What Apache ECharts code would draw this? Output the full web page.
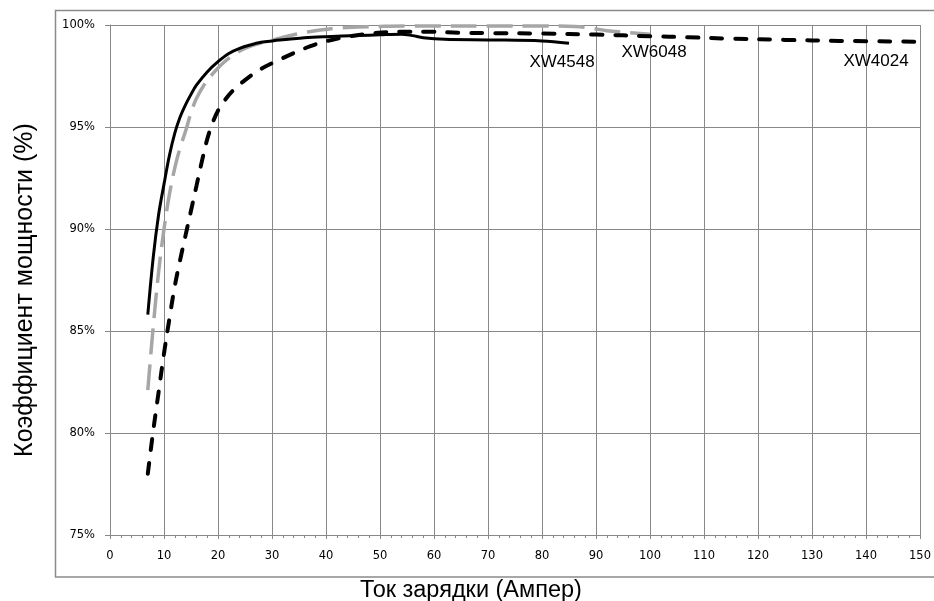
<!DOCTYPE html>
<html>
<head>
<meta charset="utf-8">
<script src="https://cdn.jsdelivr.net/npm/echarts@6/dist/echarts.min.js"></script>
<style>
html,body{margin:0;padding:0;background:#fff;}
#chart{width:934px;height:601px;}
</style>
</head>
<body>
<div id="chart"></div>
<script>
// Data
var seriesNames = ['XW4548', 'XW6048', 'XW4024'];
var xTitle = 'Ток зарядки (Ампер)';
var yTitle = 'Коэффициент мощности (%)';

var xw4548X = [7, 8, 9, 10, 11, 12, 13, 14, 15, 16, 18, 20, 22, 24, 26, 28, 30, 33, 36, 40, 46, 50, 54, 56, 58, 62, 70, 80, 85];
var xw4548Y = [85.8, 88.6, 90.7, 92.2, 93.6, 94.7, 95.5, 96.1, 96.6, 97.05, 97.7, 98.2, 98.6, 98.85, 99.02, 99.15, 99.22, 99.3, 99.38, 99.43, 99.48, 99.52, 99.55, 99.48, 99.38, 99.3, 99.27, 99.22, 99.1];

var xw6048X = [7, 8, 9, 10, 11, 12, 13, 14, 15, 16, 17.5, 19, 21, 23, 25, 27.7, 31.4, 35, 38, 42, 46, 50, 55, 60, 70, 80, 86, 89, 92, 95, 100];
var xw6048Y = [82.1, 85.2, 87.9, 90.0, 91.7, 93.0, 94.0, 94.8, 95.7, 96.4, 97.1, 97.6, 98.15, 98.55, 98.85, 99.1, 99.35, 99.58, 99.72, 99.85, 99.9, 99.93, 99.95, 99.95, 99.95, 99.95, 99.93, 99.85, 99.72, 99.65, 99.55];

var xw4024X = [7, 8, 9, 10, 11, 12, 13, 14, 15, 16, 17, 18, 19, 20, 21.5, 23, 25, 28, 31, 34, 37, 40, 44, 48.6, 53.8, 59, 64.6, 71, 80, 90, 100, 107, 115, 125, 135, 150];
var xw4024Y = [78.0, 80.1, 82.0, 83.9, 85.6, 87.2, 88.5, 89.7, 90.9, 92.1, 93.3, 94.4, 95.2, 95.8, 96.4, 96.85, 97.3, 97.85, 98.25, 98.62, 98.95, 99.2, 99.43, 99.59, 99.67, 99.67, 99.62, 99.6, 99.58, 99.53, 99.45, 99.4, 99.33, 99.27, 99.22, 99.18];

var xMin = 0, xMax = 150, xStep = 10;
var yMin = 75, yMax = 100, yStep = 5;

function pairs(xs, ys) {
  var out = [];
  for (var i = 0; i < xs.length; i++) out.push([xs[i], ys[i]]);
  return out;
}

var gridColor = '#888888';
var chart = echarts.init(document.getElementById('chart'), null, {renderer: 'canvas'});
chart.setOption({
  animation: false,
  backgroundColor: '#ffffff',
  grid: {left: 110, right: 10, top: 25, bottom: 66, containLabel: false},
  xAxis: {
    type: 'value', min: xMin, max: xMax, interval: xStep,
    axisLine: {show: true, lineStyle: {color: gridColor, width: 1}},
    axisTick: {show: true, length: 4, lineStyle: {color: gridColor}},
    minorTick: {show: true, splitNumber: 5, length: 3, lineStyle: {color: gridColor}},
    axisLabel: {fontFamily: 'DejaVu Sans', fontSize: 11.5, color: '#000', margin: 15},
    splitLine: {show: true, lineStyle: {color: gridColor, width: 1}}
  },
  yAxis: {
    type: 'value', min: yMin, max: yMax, interval: yStep,
    axisLine: {show: true, lineStyle: {color: gridColor, width: 1}},
    axisTick: {show: true, length: 5, lineStyle: {color: gridColor}},
    axisLabel: {fontFamily: 'DejaVu Sans', fontSize: 11.5, color: '#000', margin: 15, formatter: '{value}%'},
    splitLine: {show: true, lineStyle: {color: gridColor, width: 1}}
  },
  series: [
    {
      name: seriesNames[0], type: 'line', data: pairs(xw4548X, xw4548Y),
      showSymbol: false, smooth: 0.35, z: 4,
      lineStyle: {color: '#000000', width: 3}
    },
    {
      name: seriesNames[1], type: 'line', data: pairs(xw6048X, xw6048Y),
      showSymbol: false, smooth: 0.35, z: 3,
      lineStyle: {color: '#a6a6a6', width: 3.5, type: [26, 10]}
    },
    {
      name: seriesNames[2], type: 'line', data: pairs(xw4024X, xw4024Y),
      showSymbol: false, smooth: 0.35, z: 5,
      lineStyle: {color: '#000000', width: 4, type: [11, 13], cap: 'round'}
    }
  ],
  graphic: [
    {type: 'rect', z: -1, silent: true, shape: {x: 55.5, y: 10.5, width: 900, height: 566.5},
     style: {fill: 'none', stroke: '#8a8a8a', lineWidth: 1.5}},
    {type: 'text', x: 471, y: 591, z: 10,
     style: {text: xTitle, font: '23.5px "Liberation Sans"', fill: '#000', align: 'center', verticalAlign: 'middle'}},
    {type: 'text', x: 25, y: 290, rotation: Math.PI / 2, z: 10,
     style: {text: yTitle, font: '25px "Liberation Sans"', fill: '#000', align: 'center', verticalAlign: 'middle'}},
    {type: 'text', x: 562, y: 62, z: 10,
     style: {text: seriesNames[0], font: '17px "Liberation Sans"', fill: '#000', align: 'center', verticalAlign: 'middle'}},
    {type: 'text', x: 654, y: 52, z: 10,
     style: {text: seriesNames[1], font: '17px "Liberation Sans"', fill: '#000', align: 'center', verticalAlign: 'middle'}},
    {type: 'text', x: 876, y: 61, z: 10,
     style: {text: seriesNames[2], font: '17px "Liberation Sans"', fill: '#000', align: 'center', verticalAlign: 'middle'}}
  ]
});
</script>
</body>
</html>
